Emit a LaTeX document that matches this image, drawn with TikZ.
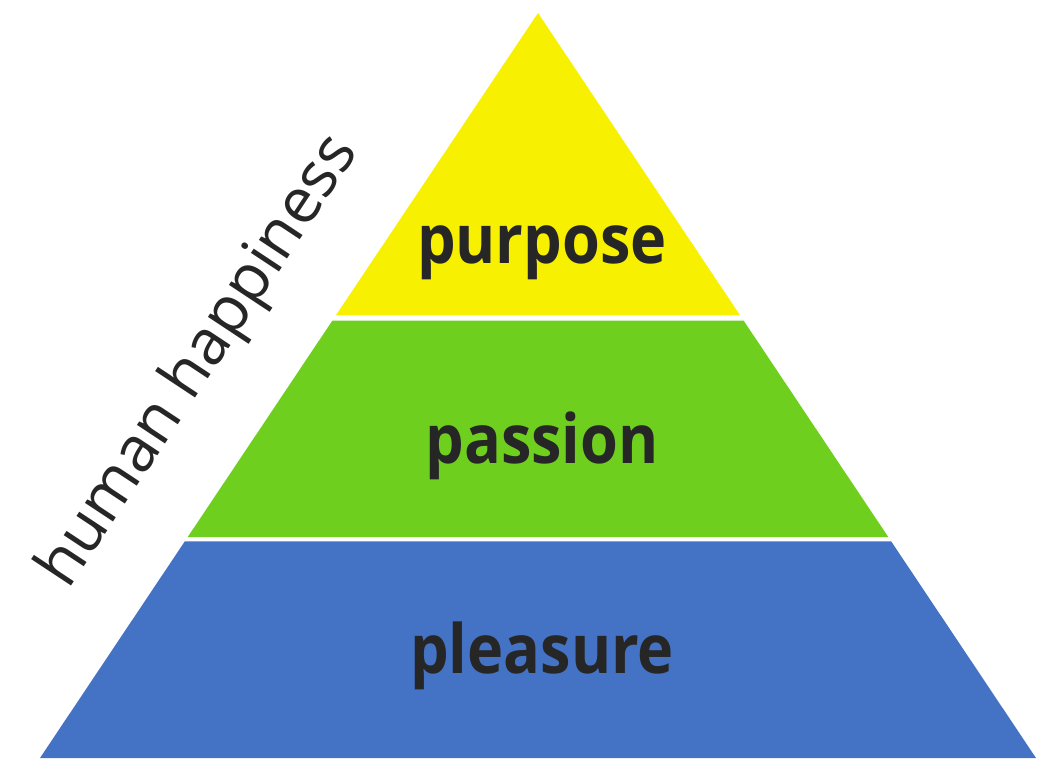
\documentclass[tikz,border=0pt]{standalone}
\usepackage{fontspec}
\setmainfont{Open Sans}
\usetikzlibrary{calc}
\definecolor{pyyellow}{RGB}{247,240,0}
\definecolor{pygreen}{RGB}{111,207,31}
\definecolor{pyblue}{RGB}{68,114,196}
\definecolor{pytext}{RGB}{38,38,38}
\tikzset{
  band/.style={draw=none},
  bandlabel/.style={anchor=base, inner sep=0pt, text=pytext, font=\fontsize{68}{80}\selectfont\bfseries},
  sidelabel/.style={anchor=base west, inner sep=0pt, text=pytext, rotate=56.5, font=\fontsize{63}{72}\selectfont}
}
\begin{document}
\begin{tikzpicture}[x=1pt,y=-1pt]
\useasboundingbox (0,0) rectangle (1058,776);
\coordinate (A) at (538,13);
\coordinate (BL) at (40,758);
\coordinate (BR) at (1036,758);
% yellow
\fill[pyyellow, band] (A) -- ($(A)!{302.5/745}!(BL)$) -- ($(A)!{302.5/745}!(BR)$) -- cycle;
% green
\fill[pygreen, band] ($(A)!{307.5/745}!(BL)$) -- ($(A)!{524/745}!(BL)$) -- ($(A)!{524/745}!(BR)$) -- ($(A)!{307.5/745}!(BR)$) -- cycle;
% blue
\fill[pyblue, band] ($(A)!{528.5/745}!(BL)$) -- (BL) -- (BR) -- ($(A)!{528.5/745}!(BR)$) -- cycle;
\node[bandlabel] (purpose) at (542,263) {\scalebox{0.9}[1]{purpose}};
\node[bandlabel] (passion) at (542,463) {\scalebox{0.9}[1]{passion}};
\node[bandlabel] (pleasure) at (542,673) {\scalebox{0.9}[1]{pleasure}};
\node[sidelabel] (hh) at (68,591) {human happiness};
\end{tikzpicture}
\end{document}
